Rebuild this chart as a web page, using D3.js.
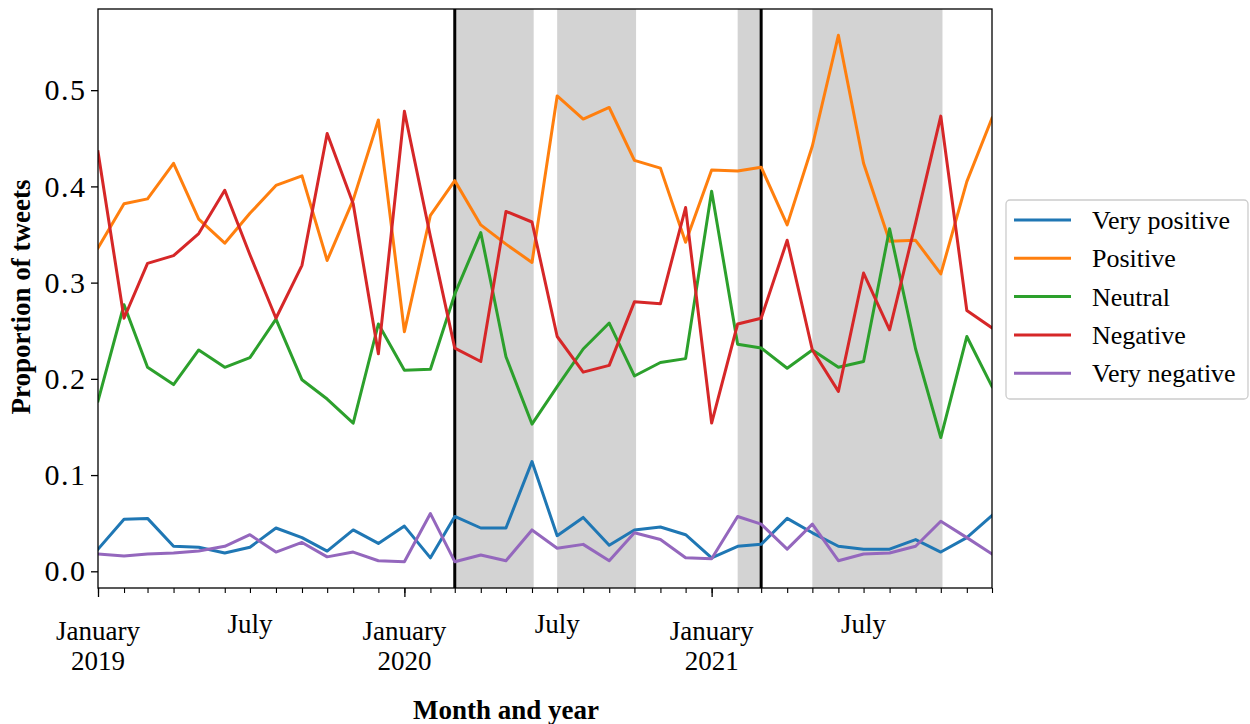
<!DOCTYPE html>
<html>
<head>
<meta charset="utf-8">
<script src="https://cdn.jsdelivr.net/npm/d3@7"></script>
<style>
  html, body { margin: 0; padding: 0; background: #fff; }
  svg { display: block; }
  text { font-family: "Liberation Serif", "Times New Roman", serif; fill: #000; }
</style>
</head>
<body>
<svg id="chart" width="1250" height="724"></svg>
<script>
// Monthly share of tweets per sentiment class, January 2019 – December 2021
const months = d3.timeMonths(new Date(2019, 0, 1), new Date(2022, 0, 1));

const veryPositive = [0.023, 0.054, 0.055, 0.026, 0.025, 0.019, 0.025, 0.045, 0.035, 0.021, 0.043, 0.029,
                      0.047, 0.014, 0.057, 0.045, 0.045, 0.114, 0.037, 0.056, 0.027, 0.043, 0.046, 0.038,
                      0.014, 0.026, 0.028, 0.055, 0.040, 0.026, 0.023, 0.023, 0.033, 0.020, 0.035, 0.058];
const positive     = [0.336, 0.382, 0.387, 0.424, 0.366, 0.341, 0.372, 0.401, 0.411, 0.323, 0.386, 0.469,
                      0.249, 0.370, 0.406, 0.360, 0.340, 0.321, 0.494, 0.470, 0.482, 0.427, 0.419, 0.342,
                      0.417, 0.416, 0.420, 0.360, 0.442, 0.557, 0.424, 0.343, 0.344, 0.309, 0.405, 0.471];
const neutral      = [0.177, 0.277, 0.212, 0.194, 0.230, 0.212, 0.222, 0.262, 0.199, 0.179, 0.154, 0.257,
                      0.209, 0.210, 0.288, 0.352, 0.223, 0.153, 0.192, 0.231, 0.258, 0.203, 0.217, 0.221,
                      0.395, 0.236, 0.232, 0.211, 0.230, 0.212, 0.218, 0.356, 0.231, 0.139, 0.244, 0.192];
const negative     = [0.436, 0.263, 0.320, 0.328, 0.351, 0.396, 0.329, 0.263, 0.318, 0.455, 0.382, 0.226,
                      0.478, 0.348, 0.232, 0.218, 0.374, 0.363, 0.244, 0.207, 0.214, 0.280, 0.278, 0.378,
                      0.154, 0.257, 0.263, 0.344, 0.230, 0.187, 0.310, 0.251, 0.362, 0.473, 0.271, 0.253];
const veryNegative = [0.018, 0.016, 0.018, 0.019, 0.021, 0.026, 0.038, 0.020, 0.030, 0.015, 0.020, 0.011,
                      0.010, 0.060, 0.010, 0.017, 0.011, 0.043, 0.024, 0.028, 0.011, 0.040, 0.033, 0.014,
                      0.013, 0.057, 0.049, 0.023, 0.049, 0.011, 0.018, 0.019, 0.026, 0.052, 0.035, 0.018];

const seriesNames  = ["Very positive", "Positive", "Neutral", "Negative", "Very negative"];
const seriesColors = ["#1f77b4", "#ff7f0e", "#2ca02c", "#d62728", "#9467bd"];
const seriesValues = [veryPositive, positive, neutral, negative, veryNegative];

// Shaded periods and the two marker dates
const shadedStarts = ["2020-03-01", "2020-07-01", "2021-02-01", "2021-05-01"];
const shadedEnds   = ["2020-06-03", "2020-10-03", "2021-03-01", "2021-10-03"];
const markerDates  = ["2020-03-01", "2021-03-01"];

// Tick labels on the time axis
const labelDates  = ["2019-01-01", "2019-07-01", "2020-01-01", "2020-07-01", "2021-01-01", "2021-07-01"];
const labelLines  = [["January", "2019"], ["July"], ["January", "2020"], ["July"], ["January", "2021"], ["July"]];
const yTickValues = [0.0, 0.1, 0.2, 0.3, 0.4, 0.5];

const parseDate = d3.timeParse("%Y-%m-%d");

const svg = d3.select("#chart");
const plot = { left: 98, right: 992, top: 9, bottom: 588 };

const x = d3.scaleTime()
  .domain([months[0], months[months.length - 1]])
  .range([plot.left, plot.right]);

const allValues = seriesValues.flat();
const [vMin, vMax] = d3.extent(allValues);
const pad = (vMax - vMin) * 0.05;
const y = d3.scaleLinear()
  .domain([vMin - pad, vMax + pad])
  .range([plot.bottom, plot.top]);

svg.append("defs").append("clipPath").attr("id", "plotClip")
  .append("rect")
  .attr("x", plot.left).attr("y", plot.top)
  .attr("width", plot.right - plot.left).attr("height", plot.bottom - plot.top);

// Shaded periods
svg.append("g").attr("clip-path", "url(#plotClip)")
  .selectAll("rect")
  .data(shadedStarts.map((s, i) => [parseDate(s), parseDate(shadedEnds[i])]))
  .join("rect")
  .attr("x", d => x(d[0]))
  .attr("width", d => x(d[1]) - x(d[0]))
  .attr("y", plot.top)
  .attr("height", plot.bottom - plot.top)
  .attr("fill", "#d3d3d3");

// Marker lines
svg.append("g")
  .selectAll("line")
  .data(markerDates.map(parseDate))
  .join("line")
  .attr("x1", d => x(d)).attr("x2", d => x(d))
  .attr("y1", plot.top).attr("y2", plot.bottom)
  .attr("stroke", "#000")
  .attr("stroke-width", 3);

// Sentiment lines
const line = d3.line()
  .x((d, i) => x(months[i]))
  .y(d => y(d));

svg.append("g").attr("clip-path", "url(#plotClip)")
  .selectAll("path")
  .data(seriesValues)
  .join("path")
  .attr("d", d => line(d))
  .attr("fill", "none")
  .attr("stroke", (d, i) => seriesColors[i])
  .attr("stroke-width", 3)
  .attr("stroke-linejoin", "round")
  .attr("stroke-linecap", "square");

// Frame
svg.append("rect")
  .attr("x", plot.left).attr("y", plot.top)
  .attr("width", plot.right - plot.left).attr("height", plot.bottom - plot.top)
  .attr("fill", "none").attr("stroke", "#000").attr("stroke-width", 1.3);

// Y axis
const yAxis = svg.append("g")
  .attr("transform", `translate(${plot.left},0)`)
  .call(d3.axisLeft(y).tickValues(yTickValues).tickFormat(d3.format(".1f")).tickSize(7).tickPadding(4.5));
yAxis.select(".domain").remove();
yAxis.selectAll(".tick line").attr("stroke", "#000").attr("stroke-width", 1.3);
yAxis.selectAll(".tick text")
  .attr("font-size", 30)
  .attr("letter-spacing", "1.5px")
  .attr("font-family", "Liberation Serif, serif");

// X axis: monthly minor ticks, longer ticks each January
const xMinor = svg.append("g")
  .attr("transform", `translate(0,${plot.bottom})`)
  .call(d3.axisBottom(x).tickValues(months).tickSize(5).tickFormat(""));
xMinor.select(".domain").remove();
xMinor.selectAll(".tick line").attr("stroke", "#000").attr("stroke-width", 1.1);

const xMajor = svg.append("g")
  .attr("transform", `translate(0,${plot.bottom})`)
  .call(d3.axisBottom(x).tickValues(months.filter(m => m.getMonth() === 0)).tickSize(9).tickFormat(""));
xMajor.select(".domain").remove();
xMajor.selectAll(".tick line").attr("stroke", "#000").attr("stroke-width", 1.3);

const xLabels = svg.append("g").attr("font-size", 27).attr("text-anchor", "middle");
labelDates.forEach((ds, i) => {
  const lines = labelLines[i];
  const t = xLabels.append("text")
    .attr("x", x(parseDate(ds)))
    .attr("y", lines.length > 1 ? 640 : 632.5);
  lines.forEach((s, j) => {
    t.append("tspan").attr("x", x(parseDate(ds))).attr("dy", j === 0 ? 0 : 29.5).text(s);
  });
});

// Axis titles
svg.append("text")
  .attr("x", 506).attr("y", 719)
  .attr("text-anchor", "middle")
  .attr("font-size", 27).attr("font-weight", "bold")
  .text("Month and year");

svg.append("text")
  .attr("transform", "translate(30,297) rotate(-90)")
  .attr("text-anchor", "middle")
  .attr("font-size", 27).attr("font-weight", "bold")
  .text("Proportion of tweets");

// Legend
const legend = svg.append("g");
legend.append("rect")
  .attr("x", 1006).attr("y", 200).attr("width", 242).attr("height", 199)
  .attr("rx", 4).attr("ry", 4)
  .attr("fill", "#fff").attr("fill-opacity", 0.8)
  .attr("stroke", "#cccccc").attr("stroke-width", 1.3);

const rows = legend.selectAll("g.row")
  .data(seriesNames)
  .join("g")
  .attr("class", "row")
  .attr("transform", (d, i) => `translate(0,${220 + i * 38.3})`);
rows.append("line")
  .attr("x1", 1014).attr("x2", 1071).attr("y1", 0).attr("y2", 0)
  .attr("stroke", (d, i) => seriesColors[i])
  .attr("stroke-width", 3);
rows.append("text")
  .attr("x", 1092).attr("y", 9)
  .attr("font-size", 26)
  .text(d => d);
</script>
</body>
</html>
